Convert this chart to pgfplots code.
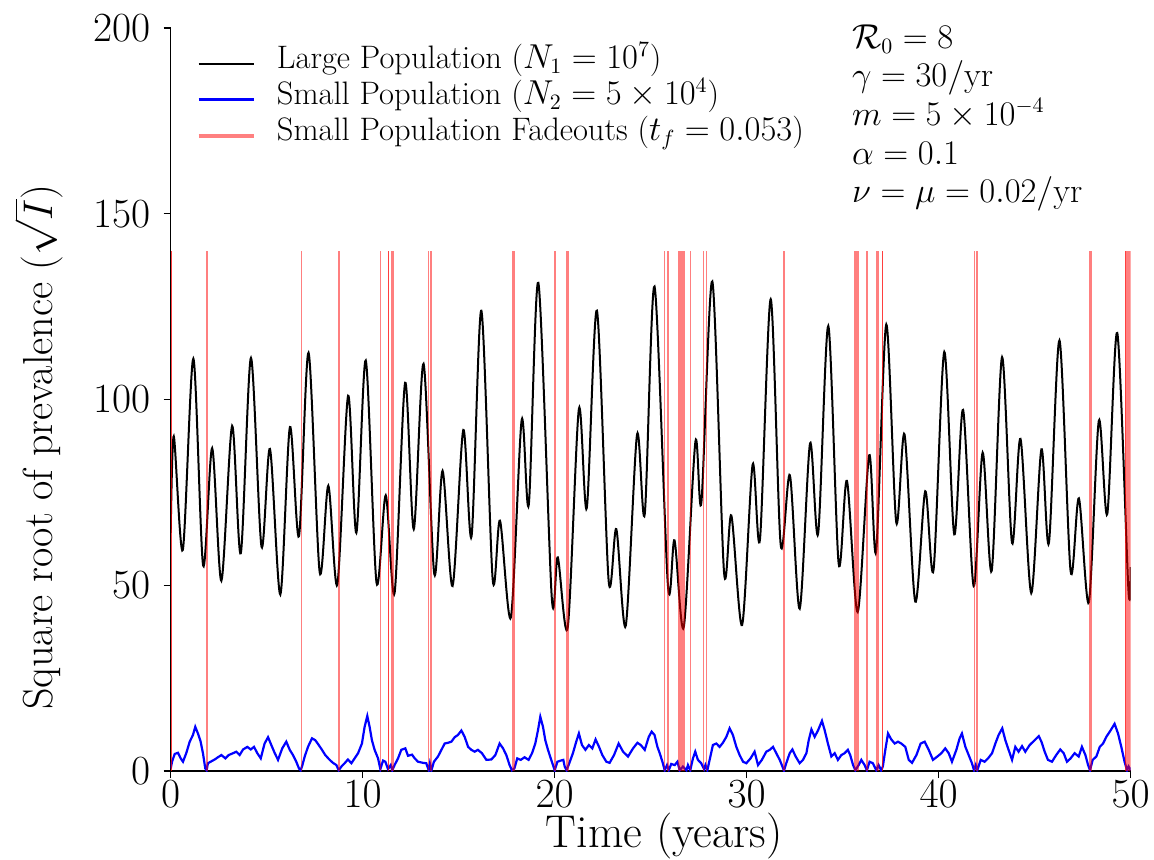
\documentclass[border=0pt]{standalone}
\usepackage{pgfplots}
\pgfplotsset{compat=1.18}
\begin{document}
\begin{tikzpicture}
\begin{axis}[
  name=ax,
  scale only axis, width=480pt, height=371.5pt,
  xmin=0, xmax=50, ymin=0, ymax=200,
  axis lines*=left,
  xtick={0,10,...,50}, ytick={0,50,...,200},
  tick align=outside, major tick length=3.5pt,
  tick style={black, line width=0.6pt},
  axis line style={line width=0.6pt},
  ticklabel style={font=\fontsize{20}{22}\selectfont},
  xticklabel style={inner sep=1pt, yshift=0pt},
  yticklabel style={inner sep=1pt, xshift=-5.6pt},
  xlabel={Time (years)},
  ylabel={Square root of prevalence ($\sqrt{I}$)},
  xlabel style={font=\fontsize{23}{26}\selectfont, inner sep=0pt, at={(axis description cs:0.514,-0.1036)}, anchor=base},
  ylabel style={font=\fontsize{21}{24}\selectfont, inner sep=0pt, at={(axis description cs:-0.1236,0.436)}, anchor=base},
  legend style={draw=none, fill=none, at={(axis description cs:0.0269,0.975)}, anchor=north west,
    inner sep=0pt, outer sep=0pt, row sep=1pt, font=\fontsize{16.25}{18}\selectfont,
    nodes={inner sep=0pt, text height=11pt, text depth=6pt}},
  legend cell align=left,
  legend image code/.code={\draw[#1] (0pt,0pt) -- (27.5pt,0pt); \path (38.2pt,0pt);},
  fade/.style={fill=red, fill opacity=0.5, draw=none, forget plot},
]
\addplot[black, line width=1pt, smooth] coordinates {
(0,64.1) (0.16,90.1) (0.63,59.5) (1.18,111.0) (1.69,55.3) (2.16,86.9) (2.64,51.2) (3.2,92.9) (3.65,58.6) (4.18,111.2) (4.73,60.4) (5.17,86.7) (5.71,47.5) (6.21,92.6) (6.68,63.2) (7.18,112.6) (7.76,53.5) (8.21,76.8) (8.68,50.2) (9.24,101.0) (9.67,64.1) (10.16,110.5) (10.72,50.7) (11.2,74.2) (11.66,47.9) (12.21,104.5) (12.66,65.1) (13.17,109.6) (13.73,53.0) (14.16,80.8) (14.68,49.8) (15.24,91.8) (15.67,63.2) (16.18,123.9) (16.77,51.6) (17.15,67.4) (17.72,41.4) (18.28,94.5) (18.65,71.7) (19.15,131.4) (19.85,46.5) (20.16,57.5) (20.68,38.7) (21.26,97.5) (21.67,70.8) (22.2,123.9) (22.81,51.2) (23.21,65.1) (23.7,39.1) (24.29,90.6) (24.69,69.2) (25.2,130.4) (25.9,49.8) (26.24,62.1) (26.72,38.7) (27.33,88.7) (27.64,72.3) (28.21,131.8) (28.82,53.5) (29.2,68.8) (29.76,39.3) (30.31,82.5) (30.69,62.3) (31.25,127.0) (31.77,60.9) (32.25,79.6) (32.76,43.7) (33.3,88.2) (33.72,63.9) (34.25,119.8) (34.79,55.8) (35.22,78.1) (35.78,42.8) (36.38,85.0) (36.74,59.1) (37.27,120.2) (37.79,66.9) (38.22,90.6) (38.78,45.6) (39.3,75.3) (39.73,54.1) (40.29,112.8) (40.81,63.7) (41.27,97.2) (41.82,49.8) (42.29,85.7) (42.76,53.9) (43.3,111.4) (43.82,61.4) (44.26,89.4) (44.82,47.9) (45.35,86.6) (45.74,61.4) (46.29,115.9) (46.87,53.8) (47.3,73.4) (47.82,45.4) (48.34,94.3) (48.78,69.2) (49.3,117.9) (49.88,48.9) (50,54.9)
};
\addlegendentry{Large Population ($N_1 = 10^7$)}
\addplot[blue, line width=1.1pt] coordinates {
(0,0.7) (0.07,2.5) (0.21,4.6) (0.38,4.9) (0.52,3.4) (0.64,2.5) (0.81,4.8) (0.99,7.9) (1.16,9.7) (1.28,11.9) (1.42,10.1) (1.56,7.9) (1.68,4.8) (1.80,0.7) (1.87,0.2) (1.94,2.1) (2.08,2.5) (2.29,3.1) (2.46,3.7) (2.64,4.3) (2.85,3.4) (3.02,4.3) (3.25,4.8) (3.42,5.2) (3.59,4.3) (3.77,5.8) (3.99,6.5) (4.17,5.8) (4.34,6.5) (4.51,4.8) (4.69,3.4) (4.89,7.4) (5.07,9.1) (5.24,7.0) (5.42,4.8) (5.59,3.0) (5.81,6.1) (6.02,7.9) (6.2,5.7) (6.37,4.3) (6.54,2.5) (6.68,0.7) (6.77,0.2) (6.86,1.6) (6.98,3.9) (7.15,6.5) (7.36,8.8) (7.53,8.3) (7.71,7.0) (7.88,5.7) (8.05,4.3) (8.28,3.0) (8.45,2.2) (8.63,1.6) (8.75,0.2) (8.89,1.2) (9.06,2.1) (9.23,3.1) (9.41,2.1) (9.58,3.4) (9.76,4.8) (9.96,7.4) (10.1,11.9) (10.24,14.8) (10.36,11.9) (10.48,8.3) (10.62,5.7) (10.8,3.4) (10.92,0.5) (11.06,2.8) (11.18,2.5) (11.32,0.5) (11.46,1.6) (11.54,0.2) (11.66,1.6) (11.84,3.4) (12.01,5.7) (12.22,6.1) (12.36,4.1) (12.57,4.4) (12.71,3.4) (12.88,2.5) (13.14,2.2) (13.31,2.1) (13.44,0.2) (13.5,2.0) (13.58,0.2) (13.71,2.5) (13.92,3.9) (14.1,5.7) (14.27,7.4) (14.44,7.6) (14.62,7.9) (14.79,9.1) (14.96,9.7) (15.14,10.9) (15.31,9.2) (15.49,6.5) (15.66,5.7) (15.83,5.2) (16.0,5.7) (16.21,4.8) (16.44,3.0) (16.7,3.1) (16.91,4.3) (17.13,7.4) (17.31,6.1) (17.48,4.3) (17.65,1.6) (17.77,0.2) (17.9,0.7) (18.05,3.4) (18.23,3.0) (18.43,3.7) (18.64,3.0) (18.82,4.8) (18.99,7.4) (19.13,11.0) (19.25,14.6) (19.39,11.9) (19.51,8.3) (19.65,5.7) (19.82,3.0) (20.0,0.2) (20.14,2.5) (20.31,2.8) (20.45,3.0) (20.52,1.2) (20.62,0.2) (20.76,2.1) (20.95,4.8) (21.12,7.9) (21.26,10.1) (21.42,7.0) (21.6,5.7) (21.78,7.0) (21.96,6.1) (22.13,8.5) (22.31,6.5) (22.48,4.3) (22.69,2.5) (22.86,2.2) (23.09,4.3) (23.33,7.4) (23.56,5.2) (23.82,3.9) (24.08,6.1) (24.31,7.6) (24.48,7.0) (24.69,5.7) (24.9,9.2) (25.05,10.6) (25.2,9.7) (25.35,6.5) (25.47,4.8) (25.61,2.5) (25.73,0.2) (25.85,1.6) (25.94,0.2) (26.07,1.9) (26.25,1.6) (26.39,2.5) (26.51,0.2) (26.68,1.2) (26.86,0.2) (26.94,1.6) (27.06,0.2) (27.2,3.4) (27.32,5.2) (27.46,3.0) (27.63,2.1) (27.78,0.5) (27.85,1.6) (27.95,0.2) (28.07,3.0) (28.24,7.0) (28.42,7.4) (28.59,6.5) (28.76,7.6) (28.94,9.2) (29.11,11.5) (29.28,9.7) (29.46,6.5) (29.63,4.3) (29.81,2.5) (29.98,2.1) (30.2,3.4) (30.41,5.2) (30.59,1.6) (30.79,3.0) (31.02,5.2) (31.2,5.7) (31.37,6.5) (31.54,4.8) (31.72,3.0) (31.86,1.2) (31.94,0.1) (32.06,2.1) (32.24,4.8) (32.38,5.8) (32.55,3.9) (32.76,2.1) (32.93,3.0) (33.11,4.8) (33.23,8.3) (33.37,11.2) (33.54,9.2) (33.72,11.0) (33.92,13.5) (34.06,11.0) (34.23,7.4) (34.41,3.9) (34.58,4.8) (34.75,3.0) (34.93,4.3) (35.1,4.8) (35.27,5.7) (35.39,4.3) (35.54,1.6) (35.66,0.2) (35.83,1.6) (35.97,3.0) (36.14,1.6) (36.26,0.2) (36.4,2.5) (36.57,2.1) (36.75,0.2) (36.87,1.6) (37.0,0.2) (37.09,1.2) (37.22,5.7) (37.36,10.1) (37.53,8.5) (37.71,7.4) (37.88,7.9) (38.05,7.4) (38.26,6.5) (38.44,3.0) (38.61,2.2) (38.84,4.3) (39.06,7.4) (39.27,7.9) (39.48,5.7) (39.7,3.0) (39.93,3.9) (40.14,4.8) (40.34,6.1) (40.52,4.8) (40.69,2.5) (40.92,5.7) (41.09,8.8) (41.21,10.1) (41.39,6.5) (41.56,4.3) (41.73,2.1) (41.84,0.2) (41.93,1.6) (42.01,0.2) (42.19,3.0) (42.39,2.5) (42.57,3.4) (42.78,4.8) (42.95,7.4) (43.12,9.7) (43.31,11.5) (43.47,8.3) (43.64,5.7) (43.82,3.0) (43.99,6.5) (44.16,5.2) (44.34,6.7) (44.51,5.2) (44.74,7.0) (45.0,8.3) (45.21,9.4) (45.35,7.9) (45.52,5.2) (45.69,3.0) (45.9,2.5) (46.12,4.3) (46.33,5.8) (46.51,4.8) (46.68,2.5) (46.87,3.4) (47.08,4.8) (47.29,3.9) (47.46,6.5) (47.64,4.3) (47.78,1.6) (47.88,0.2) (48.02,3.0) (48.21,3.9) (48.39,6.5) (48.56,7.4) (48.73,9.2) (48.96,11.0) (49.16,12.7) (49.34,10.1) (49.51,6.5) (49.68,2.5) (49.81,0.2) (49.89,1.2) (50.0,0.2)
};
\addlegendentry{Small Population ($N_2 = 5\times10^4$)}
\addlegendimage{line width=2pt, color=red!50}
\addlegendentry{Small Population Fadeouts ($t_f = 0.053$)}
\addplot[fade] coordinates {(0,0)(0,140)(0.06,140)(0.06,0)};
\addplot[fade] coordinates {(0,0)(0,140)(0.06,140)(0.06,0)};
\addplot[fade] coordinates {(1.84,0)(1.84,140)(1.94,140)(1.94,0)};
\addplot[fade] coordinates {(6.78,0)(6.78,140)(6.83,140)(6.83,0)};
\addplot[fade] coordinates {(8.70,0)(8.70,140)(8.80,140)(8.80,0)};
\addplot[fade] coordinates {(10.90,0)(10.90,140)(10.95,140)(10.95,0)};
\addplot[fade] coordinates {(11.31,0)(11.31,140)(11.36,140)(11.36,0)};
\addplot[fade] coordinates {(11.31,0)(11.31,140)(11.36,140)(11.36,0)};
\addplot[fade] coordinates {(11.47,0)(11.47,140)(11.61,140)(11.61,0)};
\addplot[fade] coordinates {(13.40,0)(13.40,140)(13.45,140)(13.45,0)};
\addplot[fade] coordinates {(13.50,0)(13.50,140)(13.60,140)(13.60,0)};
\addplot[fade] coordinates {(17.75,0)(17.75,140)(17.92,140)(17.92,0)};
\addplot[fade] coordinates {(19.96,0)(19.96,140)(20.06,140)(20.06,0)};
\addplot[fade] coordinates {(20.57,0)(20.57,140)(20.74,140)(20.74,0)};
\addplot[fade] coordinates {(25.70,0)(25.70,140)(25.76,140)(25.76,0)};
\addplot[fade] coordinates {(25.83,0)(25.83,140)(25.96,140)(25.96,0)};
\addplot[fade] coordinates {(26.40,0)(26.40,140)(26.80,140)(26.80,0)};
\addplot[fade] coordinates {(27.04,0)(27.04,140)(27.09,140)(27.09,0)};
\addplot[fade] coordinates {(27.71,0)(27.71,140)(27.76,140)(27.76,0)};
\addplot[fade] coordinates {(27.90,0)(27.90,140)(27.95,140)(27.95,0)};
\addplot[fade] coordinates {(31.87,0)(31.87,140)(32.02,140)(32.02,0)};
\addplot[fade] coordinates {(35.59,0)(35.59,140)(35.85,140)(35.85,0)};
\addplot[fade] coordinates {(36.22,0)(36.22,140)(36.31,140)(36.31,0)};
\addplot[fade] coordinates {(36.72,0)(36.72,140)(36.88,140)(36.88,0)};
\addplot[fade] coordinates {(37.04,0)(37.04,140)(37.09,140)(37.09,0)};
\addplot[fade] coordinates {(37.04,0)(37.04,140)(37.09,140)(37.09,0)};
\addplot[fade] coordinates {(41.83,0)(41.83,140)(41.88,140)(41.88,0)};
\addplot[fade] coordinates {(41.94,0)(41.94,140)(42.03,140)(42.03,0)};
\addplot[fade] coordinates {(47.83,0)(47.83,140)(47.97,140)(47.97,0)};
\addplot[fade] coordinates {(49.70,0)(49.70,140)(50,140)(50,0)};
\addplot[fade] coordinates {(49.70,0)(49.70,140)(49.76,140)(49.76,0)};
\end{axis}
\node[anchor=north west, align=left, inner sep=0pt, font=\fontsize{16.2}{19.35}\selectfont]
  at ([shift={(340.5pt,2pt)}]ax.north west)
  {$\mathcal{R}_0 = 8$\\ $\gamma = 30/\mathrm{yr}$\\ $m = 5\times10^{-4}$\\ $\alpha = 0.1$\\ $\nu = \mu = 0.02/\mathrm{yr}$};
\pgfresetboundingbox
\path[use as bounding box] ([shift={(-85.35pt,-44pt)}]ax.south west) rectangle ([shift={(11.65pt,14pt)}]ax.north east);
\end{tikzpicture}
\end{document}
